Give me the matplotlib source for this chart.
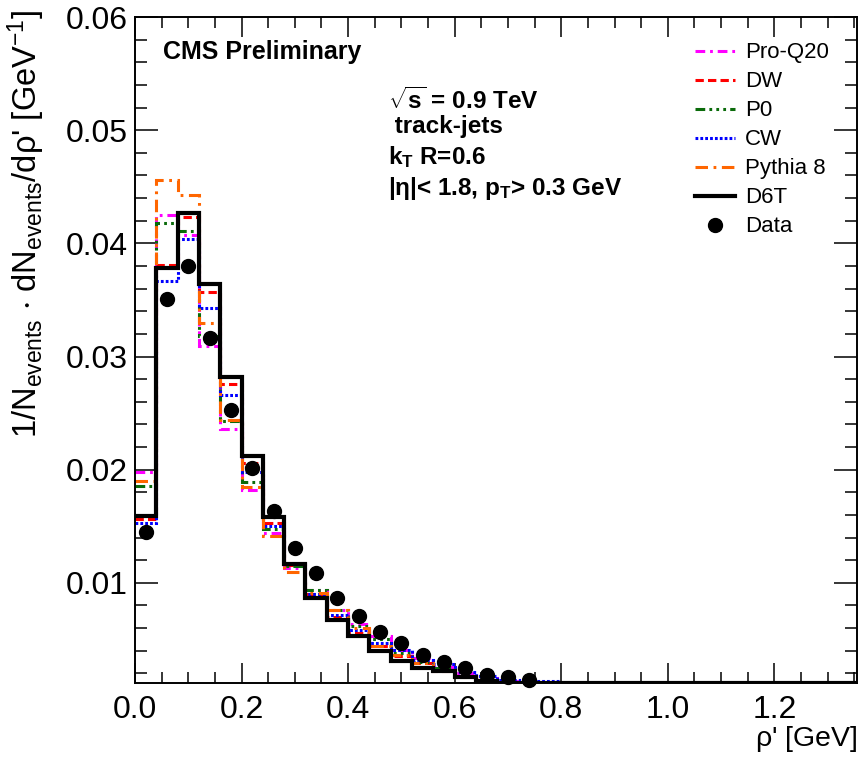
import numpy as np
import matplotlib
matplotlib.use("Agg")
import matplotlib.pyplot as plt
from matplotlib.lines import Line2D

plt.rcParams['font.family'] = ['Liberation Sans', 'DejaVu Sans']
plt.rcParams['mathtext.fontset'] = 'custom'
plt.rcParams['mathtext.rm'] = 'Liberation Sans'
plt.rcParams['mathtext.it'] = 'Liberation Sans'
plt.rcParams['mathtext.bf'] = 'Liberation Sans:bold'
plt.rcParams['mathtext.default'] = 'regular'
plt.rcParams['lines.scale_dashes'] = False

# Bin edges of rho' [GeV], width 0.04
edges = np.round(np.arange(0, 1.36 + 1e-9, 0.04), 2)

# Histogram contents (1/N dN/drho')
pro_q20 = [0.0198, 0.0425, 0.0407, 0.0309, 0.0236, 0.0182, 0.0144, 0.0113, 0.0094, 0.0076,
           0.0064, 0.0053, 0.0041, 0.0034, 0.0026, 0.0020, 0.0016, 0.0013, 0.0011, 0.0009,
           0.0007, 0.0005, 0.0004, 0.0003, 0.0002, 0.0002, 0.0001, 0.0001, 0.0001, 0.0,
           0.0, 0.0, 0.0, 0.0]
dw = [0.0156, 0.0381, 0.0423, 0.0357, 0.0276, 0.0206, 0.0153, 0.0116, 0.0090, 0.0070,
      0.0056, 0.0044, 0.0035, 0.0029, 0.0022, 0.0018, 0.0014, 0.0011, 0.0009, 0.0007,
      0.0005, 0.0004, 0.0003, 0.0002, 0.0002, 0.0001, 0.0001, 0.0001, 0.0, 0.0,
      0.0, 0.0, 0.0, 0.0]
p0 = [0.0186, 0.0418, 0.0411, 0.0318, 0.0243, 0.0189, 0.0148, 0.0115, 0.0094, 0.0076,
      0.0062, 0.0050, 0.0038, 0.0030, 0.0025, 0.0017, 0.0014, 0.0011, 0.0009, 0.0007,
      0.0005, 0.0004, 0.0003, 0.0002, 0.0002, 0.0001, 0.0001, 0.0001, 0.0, 0.0,
      0.0, 0.0, 0.0, 0.0]
cw = [0.0153, 0.0367, 0.0404, 0.0343, 0.0266, 0.0198, 0.0150, 0.0117, 0.0090, 0.0072,
      0.0058, 0.0047, 0.0041, 0.0032, 0.0028, 0.0021, 0.0018, 0.0014, 0.0013, 0.0013,
      0.0010, 0.0008, 0.0006, 0.0005, 0.0004, 0.0003, 0.0002, 0.0002, 0.0001, 0.0001,
      0.0, 0.0, 0.0, 0.0]
pythia8 = [0.0190, 0.0456, 0.0443, 0.0330, 0.0244, 0.0185, 0.0141, 0.0110, 0.0091, 0.0076,
           0.0060, 0.0044, 0.0036, 0.0029, 0.0023, 0.0017, 0.0013, 0.0010, 0.0008, 0.0006,
           0.0005, 0.0004, 0.0003, 0.0002, 0.0001, 0.0001, 0.0001, 0.0, 0.0, 0.0,
           0.0, 0.0, 0.0, 0.0]
d6t = [0.0159, 0.0378, 0.0427, 0.0364, 0.0282, 0.0212, 0.0158, 0.0117, 0.0087, 0.0067,
       0.0053, 0.0040, 0.0031, 0.0025, 0.0022, 0.0017, 0.0013, 0.0010, 0.0008, 0.0006,
       0.0005, 0.0004, 0.0003, 0.0002, 0.0002, 0.0001, 0.0001, 0.0001, 0.0, 0.0,
       0.0, 0.0, 0.0, 0.0]

# Data points at bin centres
data_y = [0.01453, 0.03506, 0.0380, 0.03161, 0.02528, 0.02013, 0.01639, 0.0131, 0.0109, 0.00865,
          0.00703, 0.00564, 0.00467, 0.00364, 0.00299, 0.00243, 0.00187, 0.00167, 0.00143]
data_x = (edges[:-1] + 0.02)[:len(data_y)]

ylo, yhi = 0.00115, 0.06
xlo, xhi = 0.0, 1.355

fig = plt.figure(figsize=(8.63, 7.57), dpi=100)
ax = fig.add_axes([0.1564, 0.0978, 0.8366, 0.8797])

mc = [
    (pro_q20, '#ff00ff', (0, (7, 3.5, 2, 3.5)), 'Pro-Q20'),
    (dw, '#ff0000', (0, (6, 3)), 'DW'),
    (p0, '#0a6b0a', (0, (7, 3, 2, 3, 2, 3, 2, 3)), 'P0'),
    (cw, '#0000ff', (0, (2, 1.5)), 'CW'),
    (pythia8, '#ff6600', (0, (9, 4, 2, 4)), 'Pythia 8'),
]
handles = []
for vals, col, ls, lab in mc:
    # ROOT draws contents below the frame along the bottom axis
    ax.stairs(np.maximum(vals, ylo), edges, baseline=None, color=col, lw=2.2, ls=ls, zorder=2)
    handles.append(Line2D([], [], color=col, lw=2.2, ls=ls, label=lab))

ax.stairs(np.maximum(d6t, ylo), edges, baseline=None, color='black', lw=3.0, zorder=3)
handles.append(Line2D([], [], color='black', lw=3.0, label='D6T'))

ax.plot(data_x, data_y, 'o', color='black', ms=10, zorder=4, clip_on=False)
handles.append(Line2D([], [], color='black', marker='o', ls='none', ms=10, label='Data'))

ax.set_xlim(xlo, xhi)
ax.set_ylim(ylo, yhi)
ax.set_xticks([0.0, 0.2, 0.4, 0.6, 0.8, 1.0, 1.2])
ax.set_xticklabels(['0.0', '0.2', '0.4', '0.6', '0.8', '1.0', '1.2'])
ax.set_xticks(np.arange(0.05, 1.355, 0.05), minor=True)
ax.set_yticks([0.01, 0.02, 0.03, 0.04, 0.05, 0.06])
ax.set_yticklabels(['0.01', '0.02', '0.03', '0.04', '0.05', '0.06'])
ax.set_yticks(np.arange(0.002, 0.0601, 0.002), minor=True)

ax.tick_params(which='both', direction='in', top=True, right=True, width=1.1, labelsize=23)
ax.tick_params(axis='x', which='major', length=14.5, pad=9)
ax.tick_params(axis='x', which='minor', length=8)
ax.tick_params(axis='y', which='major', length=16.5, pad=5)
ax.tick_params(axis='y', which='minor', length=8.6)
for s in ax.spines.values():
    s.set_linewidth(1.4)

fig.text(0.9930, 0.004, r"$\rho$' [GeV]", ha='right', va='bottom', fontsize=20.5)
fig.text(0.030, 0.987, r"1/N$_{events}$ $\cdot$ dN$_{events}$/d$\rho$' [GeV$^{-1}$]",
         rotation=90, rotation_mode='anchor', ha='right', va='center', fontsize=23.5)

ax.text(0.0388, 0.947, 'CMS Preliminary', transform=ax.transAxes, fontsize=18,
        fontweight='bold', va='center', ha='left')
ax.text(0.350, 0.875, r'$\sqrt{\mathbf{s}}$ = 0.9 TeV', transform=ax.transAxes, fontsize=17.5,
        fontweight='bold', va='center')
ax.text(0.350, 0.835, ' track-jets', transform=ax.transAxes, fontsize=17.5,
        fontweight='bold', va='center')
ax.text(0.350, 0.790, r'k$_{\mathbf{T}}$ R=0.6', transform=ax.transAxes, fontsize=17.5,
        fontweight='bold', va='center')
ax.text(0.350, 0.743, r'|$\eta$|< 1.8, p$_{\mathbf{T}}$> 0.3 GeV', transform=ax.transAxes,
        fontsize=17.5, fontweight='bold', va='center')

ax.legend(handles=handles, loc='upper left', bbox_to_anchor=(0.776, 0.962), frameon=False,
          fontsize=16, handlelength=1.8, handletextpad=0.45, labelspacing=0.36,
          borderaxespad=0.0, borderpad=0.0)

fig.savefig('out.png', dpi=100)
